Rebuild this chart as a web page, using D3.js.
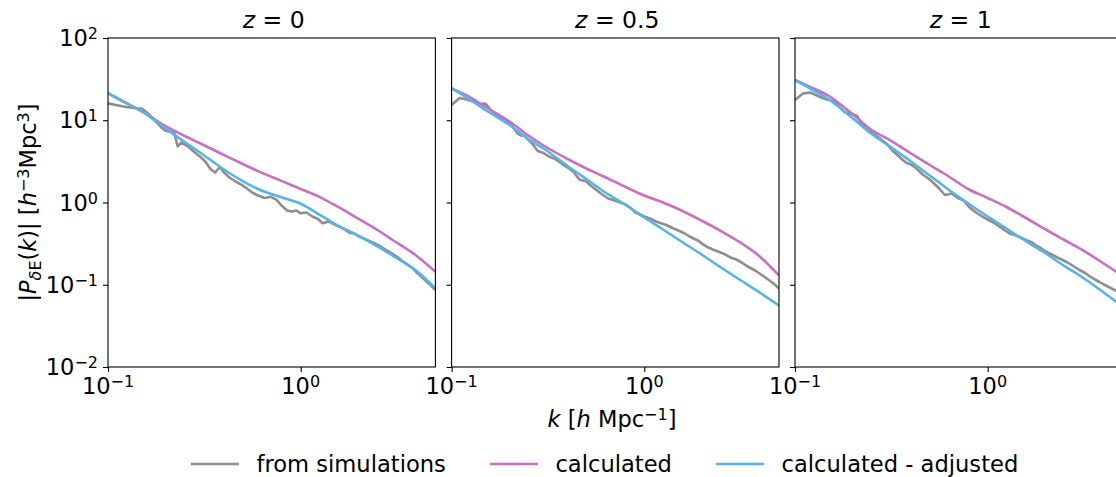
<!DOCTYPE html>
<html><head><meta charset="utf-8">
<script src="https://cdn.jsdelivr.net/npm/d3@7"></script>
<style>
body{margin:0;background:#fff;}
svg{display:block;font-family:"DejaVu Sans",sans-serif;}
</style></head><body>
<svg id="c" width="1116" height="477"></svg>
<script>
// ---------- data ----------
const zLabels = ["0", "0.5", "1"];

const kSim = [0.1,0.11,0.12,0.13,0.14,0.15,0.16,0.17,0.18,0.19,0.2,0.21,0.22,0.23,0.24,
  0.26,0.28,0.3,0.32,0.34,0.36,0.38,0.4,0.43,0.46,0.5,0.53,0.56,0.6,
  0.65,0.7,0.75,0.8,0.85,0.9,0.95,1.0,1.07,1.15,1.23,1.3,1.4,1.5,1.6,1.7,1.8,1.9,2.0,
  2.15,2.3,2.45,2.6,2.8,3.0,3.2,3.4,3.6,3.8,4.0,4.25,4.5,4.75,5.0];

const simZ0 = [16.07,15.32,14.69,14.29,13.97,13.9,12.25,10.65,9.26,8.05,7.40,7.26,7.2,4.80,5.36,
  4.80,4.11,3.62,3.15,2.555,2.316,2.70,2.316,1.986,1.80,1.61,1.459,1.323,1.216,
  1.134,1.173,1.073,0.906,0.799,0.777,0.799,0.739,0.756,0.676,0.630,0.560,0.587,0.540,0.504,0.463,0.426,0.420,0.386,
  0.360,0.336,0.313,0.292,0.261,0.237,0.2145,0.1917,0.1738,0.1598,0.1409,0.1242,0.1095,0.0979,0.0863];

const simZ05 = [15.32,18.64,17.88,16.76,15.76,15.98,13.32,11.26,10.8,10.21,9.26,8.05,6.90,6.525,6.435,
  5.29,4.228,3.998,3.625,3.428,3.151,2.857,2.665,2.349,1.904,1.80,1.587,1.439,1.268,
  1.118,1.057,1.0,0.946,0.857,0.756,0.715,0.676,0.639,0.587,0.556,0.533,0.49,0.4565,0.426,0.3915,0.365,0.345,0.313,
  0.2837,0.2646,0.250,0.2365,0.2145,0.2028,0.1864,0.169,0.1576,0.147,0.1351,0.1225,0.111,0.1007,0.090];

const simZ1 = [17.63,21.14,21.75,20.0,18.49,17.63,16.9,14.69,12.6,12.25,11.75,11.26,9.13,8.17,7.61,
  6.71,5.83,5.14,4.287,3.78,3.333,3.021,2.897,2.555,2.19,1.904,1.678,1.48,1.234,
  1.287,1.134,1.057,0.882,0.788,0.715,0.666,0.621,0.571,0.511,0.4565,0.42,0.397,0.370,0.345,0.3265,0.296,0.276,0.2537,
  0.2333,0.2145,0.20,0.1864,0.1667,0.1511,0.139,0.126,0.1158,0.108,0.1007,0.0939,0.0876,0.0816,0.0761];

const kTheory = [0.1,0.12,0.15,0.2,0.25,0.3,0.4,0.5,0.6,0.8,1.0,1.25,1.5,2,2.5,3,4,5];

const calcZ0 = [21.3,16.9,12.8,8.4,6.44,5.25,3.78,2.94,2.41,1.82,1.46,1.17,0.933,0.631,0.463,0.35,0.224,0.144];
const adjZ0  = [21.3,16.9,12.8,7.88,5.44,4.06,2.52,1.82,1.46,1.15,0.966,0.714,0.551,0.392,0.293,0.226,0.147,0.0906];
const calcZ05 = [24.45,20.0,14.5,9.66,6.525,4.93,3.38,2.591,2.13,1.543,1.216,1.0,0.834,0.596,0.450,0.350,0.2175,0.1296];
const adjZ05  = [24.45,18.9,13.32,8.75,5.92,4.535,2.778,1.931,1.419,0.932,0.657,0.4696,0.355,0.23,0.162,0.1225,0.0794,0.0559];
const calcZ1 = [30.86,25.37,19.72,11.75,7.61,6.00,3.942,2.857,2.221,1.439,1.134,0.882,0.695,0.4696,0.350,0.276,0.1813,0.1277];
const adjZ1  = [30.86,24.32,17.88,10.5,6.80,5.07,3.151,2.13,1.543,0.959,0.676,0.483,0.365,0.240,0.169,0.1296,0.0805,0.0544];

const yTickValues = [0.01, 0.1, 1, 10, 100];
const yTickExp = ["\u22122", "\u22121", "0", "1", "2"];
const xTickValues = [0.1, 1];
const xTickExp = ["\u22121", "0"];
const legendLabels = ["from simulations", "calculated", "calculated - adjusted"];
const seriesColors = ["#8e8e8e", "#c96fc2", "#56b4e9"];

const simSeries = [simZ0, simZ05, simZ1];
const calcSeries = [calcZ0, calcZ05, calcZ1];
const adjSeries = [adjZ0, adjZ05, adjZ1];

// ---------- layout ----------
const svg = d3.select("#c");
const FS = 22.5, SUP = 16;
const panelLeft = [108, 451.6, 795];
const panelW = 327.4, plotTop = 38, plotBottom = 367;

function rich(textSel, parts) {
  let cur = 0;
  parts.forEach(p => {
    const target = p.sup ? -7 : (p.sub ? 4.5 : 0);
    const ts = textSel.append("tspan").text(p.t);
    if (target !== cur) ts.attr("dy", target - cur);
    cur = target;
    if (p.sup || p.sub) ts.attr("font-size", SUP);
    if (p.it) ts.attr("font-style", "italic");
  });
  return textSel;
}

const defs = svg.append("defs");

panelLeft.forEach((L, i) => {
  const x = d3.scaleLog().domain([0.1, 5]).range([L, L + panelW]);
  const y = d3.scaleLog().domain([0.01, 100]).range([plotBottom, plotTop]);
  const g = svg.append("g");

  defs.append("clipPath").attr("id", "clip" + i)
    .append("rect").attr("x", L).attr("y", plotTop).attr("width", panelW).attr("height", plotBottom - plotTop);

  const ax = g.append("g").attr("transform", `translate(0,${plotBottom})`)
    .call(d3.axisBottom(x).tickValues(xTickValues).tickSize(5).tickSizeOuter(0).tickFormat(() => ""));
  const ay = g.append("g").attr("transform", `translate(${L},0)`)
    .call(d3.axisLeft(y).tickValues(yTickValues).tickSize(5).tickSizeOuter(0).tickFormat(() => ""));
  [ax, ay].forEach(a => {
    a.select(".domain").remove();
    a.selectAll(".tick line").attr("stroke", "#000").attr("stroke-width", 1.1);
  });

  xTickValues.forEach((v, j) => {
    const t = g.append("text").attr("x", x(v)).attr("y", 394)
      .attr("text-anchor", "middle").attr("font-size", FS).attr("fill", "#000");
    rich(t, [{t: "10"}, {t: xTickExp[j], sup: true}]);
  });
  if (i === 0) {
    yTickValues.forEach((v, j) => {
      const t = g.append("text").attr("x", L - 10).attr("y", y(v) + 8)
        .attr("text-anchor", "end").attr("font-size", FS).attr("fill", "#000");
      rich(t, [{t: "10"}, {t: yTickExp[j], sup: true}]);
    });
  }

  const lines = g.append("g").attr("clip-path", `url(#clip${i})`);
  const simLine = d3.line().x(d => x(d[0])).y(d => y(d[1]));
  const thLine = d3.line().x(d => x(d[0])).y(d => y(d[1])).curve(d3.curveMonotoneX);
  lines.append("path").datum(kSim.map((k, j) => [k, simSeries[i][j]]))
    .attr("d", simLine).attr("fill", "none").attr("stroke", seriesColors[0])
    .attr("stroke-width", 2.6).attr("stroke-linejoin", "round");
  lines.append("path").datum(kTheory.map((k, j) => [k, calcSeries[i][j]]))
    .attr("d", thLine).attr("fill", "none").attr("stroke", seriesColors[1]).attr("stroke-width", 2.6);
  lines.append("path").datum(kTheory.map((k, j) => [k, adjSeries[i][j]]))
    .attr("d", thLine).attr("fill", "none").attr("stroke", seriesColors[2]).attr("stroke-width", 2.6);

  g.append("rect").attr("x", L).attr("y", plotTop).attr("width", panelW).attr("height", plotBottom - plotTop)
    .attr("fill", "none").attr("stroke", "#000").attr("stroke-width", 1.1);

  const tt = g.append("text").attr("x", L + panelW / 2 + 2).attr("y", 28)
    .attr("text-anchor", "middle").attr("font-size", 23.5).attr("fill", "#000");
  rich(tt, [{t: "z", it: true}, {t: " = " + zLabels[i]}]);
});

rich(svg.append("text").attr("x", 612).attr("y", 427).attr("text-anchor", "middle")
  .attr("font-size", FS).attr("fill", "#000"),
  [{t: "k", it: true}, {t: " ["}, {t: "h", it: true}, {t: " Mpc"}, {t: "\u22121", sup: true}, {t: "]"}]);

rich(svg.append("text").attr("transform", "translate(36,202.5) rotate(-90)").attr("text-anchor", "middle")
  .attr("font-size", FS).attr("fill", "#000"),
  [{t: "|"}, {t: "P", it: true}, {t: "\u03B4", it: true, sub: true}, {t: "E", sub: true},
   {t: "("}, {t: "k", it: true}, {t: ")| ["}, {t: "h", it: true}, {t: "\u22123", sup: true},
   {t: "Mpc"}, {t: "3", sup: true}, {t: "]"}]);

const lg = svg.append("g");
const LFS = 22.6;
const items = legendLabels.map((lab, i) => {
  const it = lg.append("g");
  it.append("line").attr("x1", 0).attr("x2", 48).attr("y1", 464).attr("y2", 464)
    .attr("stroke", seriesColors[i]).attr("stroke-width", 2.6);
  const t = it.append("text").attr("x", 65.6).attr("y", 472).attr("font-size", LFS).attr("fill", "#000").text(lab);
  return {g: it, w: 65.6 + t.node().getComputedTextLength()};
});
const gapCol = 44;
const totalW = d3.sum(items, d => d.w) + gapCol * (items.length - 1);
let cx = 604.6 - totalW / 2;
items.forEach(d => { d.g.attr("transform", `translate(${cx},0)`); cx += d.w + gapCol; });
</script>
</body></html>
